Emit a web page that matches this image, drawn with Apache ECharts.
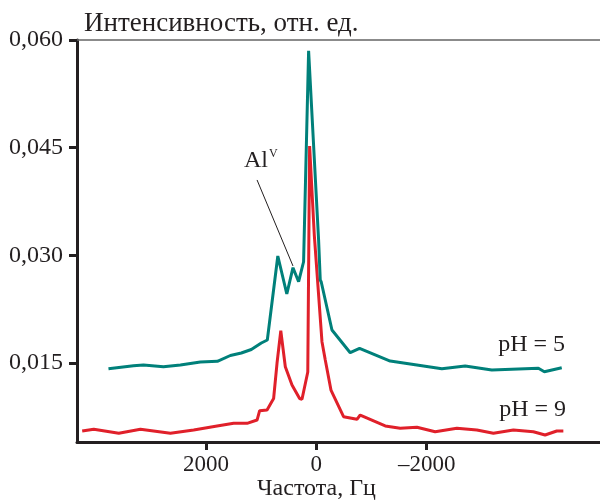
<!DOCTYPE html>
<html>
<head>
<meta charset="utf-8">
<script src="https://cdn.jsdelivr.net/npm/echarts@6/dist/echarts.min.js"></script>
<style>html,body{margin:0;padding:0;background:#fff}#c{width:600px;height:501px}</style>
</head>
<body>
<div id="c"></div>
<script>
// pH = 5 (teal)
var freq5 = [3765, 3312, 3131, 2769, 2462, 2100, 1792, 1557, 1358, 1177, 996, 887, 697, 534, 422, 320, 230, 139, -42, -72, -90, -284, -615, -784, -1339, -2275, -2697, -3180, -4024, -4132, -4447];
var int5  = [0.01421, 0.01463, 0.01473, 0.01449, 0.01473, 0.01514, 0.01524, 0.01605, 0.0164, 0.01688, 0.01779, 0.01821, 0.02991, 0.02462, 0.02828, 0.02633, 0.02911, 0.0585, 0.03214, 0.02657, 0.02629, 0.0196, 0.01644, 0.01705, 0.01528, 0.01421, 0.01459, 0.01403, 0.01427, 0.01379, 0.01435];
// pH = 9 (red)
var freq9 = [4241, 4031, 3578, 3186, 2643, 2221, 1797, 1497, 1254, 1073, 1026, 892, 773, 711, 643, 561, 440, 302, 259, 154, 121, 36, -103, -163, -266, -494, -737, -796, -1249, -1520, -1823, -2154, -2547, -2909, -3209, -3571, -3933, -4145, -4357, -4476];
var int9  = [0.00553, 0.00577, 0.00521, 0.00577, 0.00521, 0.00567, 0.00623, 0.0066, 0.0066, 0.00706, 0.00836, 0.00846, 0.01006, 0.015, 0.0195, 0.01449, 0.01194, 0.01006, 0.00995, 0.01375, 0.04523, 0.03283, 0.01797, 0.01542, 0.01124, 0.00752, 0.00716, 0.00776, 0.00623, 0.00591, 0.00605, 0.00543, 0.00591, 0.00567, 0.00521, 0.00567, 0.00543, 0.00498, 0.00553, 0.00553];
var xTicks = [2000, 0, -2000];
var yTicks = [0.015, 0.030, 0.045, 0.060];
// annotation pointer (data coords)
var pointerFrom = [1073, 0.0405];
var pointerTo = [422, 0.02852];

function zip(a, b) { return a.map(function (v, i) { return [v, b[i]]; }); }

var serif = '"Liberation Serif", "DejaVu Serif", serif';
var ink = '#231f20';
var chart = echarts.init(document.getElementById('c'));
chart.setOption({
  animation: false,
  backgroundColor: '#fff',
  grid: { left: 77, right: 0, top: 40, bottom: 59 },
  xAxis: [{
    type: 'value', inverse: true, min: -5140, max: 4335,
    axisLine: { onZero: false, lineStyle: { color: ink, width: 3 } },
    axisTick: { show: true, length: 8, lineStyle: { color: ink, width: 3 }, customValues: xTicks },
    axisLabel: { customValues: xTicks, color: ink, fontFamily: serif, fontSize: 23, margin: 11,
      formatter: function (v) { return v < 0 ? '\u2013' + Math.abs(v) : String(v); } },
    splitLine: { show: false }
  }, {
    type: 'value', position: 'top', inverse: true, min: -5140, max: 4335,
    axisLine: { show: true, onZero: false, lineStyle: { color: '#666', width: 1.5 } },
    axisTick: { show: false }, axisLabel: { show: false }, splitLine: { show: false }
  }],
  yAxis: {
    type: 'value', min: 0.004, max: 0.060,
    axisLine: { show: true, onZero: false, lineStyle: { color: ink, width: 3 } },
    axisTick: { show: true, length: 8, lineStyle: { color: ink, width: 3 }, customValues: yTicks },
    axisLabel: { customValues: yTicks, color: ink, fontFamily: serif, fontSize: 24, margin: 14,
      formatter: function (v) { return v.toFixed(3).replace('.', ','); } },
    splitLine: { show: false }
  },
  title: {
    text: 'Интенсивность, отн. ед.', left: 79, top: 5,
    textStyle: { fontFamily: serif, fontSize: 27, fontWeight: 'normal', color: ink }
  },
  series: [{
    type: 'line', data: zip(freq5, int5), showSymbol: false, smooth: false,
    lineStyle: { color: '#00807a', width: 3 }, z: 3,
    markLine: {
      silent: true, symbol: 'none', label: { show: false },
      lineStyle: { color: '#231f20', width: 1, type: 'solid' },
      data: [[{ coord: pointerFrom }, { coord: pointerTo }]]
    }
  }, {
    type: 'line', data: zip(freq9, int9), showSymbol: false, smooth: false,
    lineStyle: { color: '#e0202a', width: 3 }, z: 2
  }],
  graphic: [
    { type: 'text', left: 244, top: 148, style: { text: 'Al{s|V}', fontFamily: serif, fontSize: 24, fill: ink,
      rich: { s: { fontSize: 12, fontFamily: serif, fill: ink, verticalAlign: 'top', padding: [0, 0, 14, 1] } } } },
    { type: 'text', right: 35, top: 333, style: { text: 'pH = 5', fontFamily: serif, fontSize: 24, fill: ink } },
    { type: 'text', right: 34, top: 398, style: { text: 'pH = 9', fontFamily: serif, fontSize: 24, fill: ink } },
    { type: 'text', left: 257, top: 477, style: { text: 'Частота, Гц', fontFamily: serif, fontSize: 24, fill: ink } }
  ]
});
</script>
</body>
</html>
